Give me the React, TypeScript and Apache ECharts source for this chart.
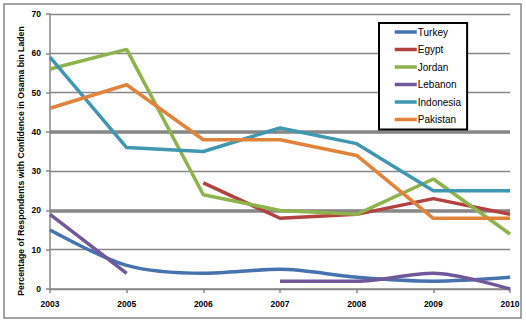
import React, { useEffect, useRef } from "react";
import * as echarts from "echarts";

const years = ["2003", "2005", "2006", "2007", "2008", "2009", "2010"];
const turkey = [15, 6, 4, 5, 3, 2, 3];
const egypt = [null, null, 27, 18, 19, 23, 19];
const jordan = [56, 61, 24, 20, 19, 28, 14];
const lebanon = [19, 4, null, 2, 2, 4, 0];
const indonesia = [59, 36, 35, 41, 37, 25, 25];
const pakistan = [46, 52, 38, 38, 34, 18, 18];
const seriesNames = ["Turkey", "Egypt", "Jordan", "Lebanon", "Indonesia", "Pakistan"];
const seriesColors = ["#4672AE", "#B2423F", "#8EB24C", "#71589A", "#3F98B0", "#E2833C"];
const seriesSmooth = [true, false, false, true, false, false];
const yTitle = "Percentage of Respondents with Confidence in Osama bin Laden";

const FONT = "'Liberation Sans', Arial, sans-serif";
const GRID = "#878787";

export default function App() {
  const ref = useRef<HTMLDivElement>(null);
  useEffect(() => {
    if (!ref.current) return;
    const chart = echarts.init(ref.current, null, { renderer: "svg" });
    const all = [turkey, egypt, jordan, lebanon, indonesia, pakistan];
    const series: any[] = all.map((d, i) => ({
      name: seriesNames[i],
      type: "line",
      data: d,
      symbol: "none",
      smooth: seriesSmooth[i] ? 0.3 : false,
      connectNulls: false,
      z: 3 + i,
      lineStyle: { color: seriesColors[i], width: 3.5 },
      itemStyle: { color: seriesColors[i] },
    }));
    series[0].markLine = {
      silent: true,
      symbol: "none",
      label: { show: false },
      lineStyle: { color: GRID, width: 3.5, type: "solid" },
      data: [{ yAxis: 20 }, { yAxis: 40 }],
      z: 1,
    };
    chart.setOption({
      animation: false,
      grid: { left: 50, right: 16, top: 14, bottom: 32 },
      xAxis: {
        type: "category",
        data: years,
        boundaryGap: false,
        axisLine: { show: true, lineStyle: { color: GRID, width: 1.5 } },
        axisTick: { show: true, length: 4, alignWithLabel: true, lineStyle: { color: GRID, width: 1.5 } },
        axisLabel: { margin: 10, fontSize: 8.5, fontWeight: "bold", color: "#000", fontFamily: FONT },
        splitLine: { show: false },
      },
      yAxis: {
        type: "value",
        min: 0,
        max: 70,
        interval: 10,
        axisLine: { show: true, lineStyle: { color: GRID, width: 1.5 } },
        axisTick: { show: true, length: 4, lineStyle: { color: GRID, width: 1.5 } },
        axisLabel: { margin: 9, fontSize: 8.5, fontWeight: "bold", color: "#000", fontFamily: FONT },
        splitLine: { show: true, lineStyle: { color: GRID, width: 1.4 } },
      },
      legend: {
        orient: "vertical",
        left: 379,
        top: 23,
        data: seriesNames,
        itemWidth: 22,
        itemHeight: 10,
        itemGap: 7.5,
        padding: [4, 6, 5, 14],
        borderColor: "#000",
        borderWidth: 2,
        backgroundColor: "#fff",
        itemStyle: { opacity: 0 },
        lineStyle: { width: 3.5 },
        textStyle: { fontSize: 10, color: "#000", fontFamily: FONT, padding: [0, 0, 0, -4] },
      },
      graphic: [
        {
          type: "rect",
          shape: { x: 4, y: 4, width: 517, height: 314 },
          style: { fill: "none", stroke: GRID, lineWidth: 1.5 },
          silent: true,
        },
        {
          type: "text",
          x: 21,
          y: 161,
          rotation: Math.PI / 2,
          style: {
            text: yTitle,
            fontSize: 8.7,
            fontWeight: "bold",
            fontFamily: FONT,
            fill: "#000",
            align: "center",
            verticalAlign: "middle",
          },
        },
      ],
      series,
    });
    return () => chart.dispose();
  }, []);
  return (
    <div
      ref={ref}
      style={{ position: "fixed", left: 0, top: 0, width: 526, height: 321, background: "#fff" }}
    />
  );
}
